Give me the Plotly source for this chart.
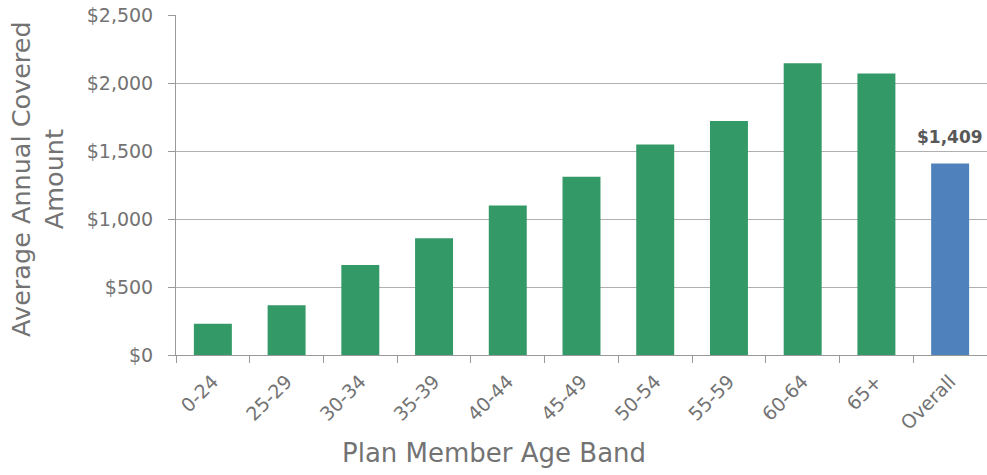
import plotly.graph_objects as go

categories = ["0-24", "25-29", "30-34", "35-39", "40-44", "45-49",
              "50-54", "55-59", "60-64", "65+", "Overall"]
values = [230, 365, 662, 858, 1100, 1310, 1547, 1720, 2145, 2070, 1409]
bar_colors = ["#339966"] * 10 + ["#4F81BD"]
tick_vals = [0, 500, 1000, 1500, 2000, 2500]
tick_text = ["$0", "$500", "$1,000", "$1,500", "$2,000", "$2,500"]

FONT = "DejaVu Sans"
GRAY = "#737373"

fig = go.Figure(go.Bar(x=categories, y=values, marker_color=bar_colors,
                       marker_line_width=0))

fig.add_annotation(x=categories[-1], y=values[-1], text="<b>$1,409</b>",
                   showarrow=False, yanchor="bottom", yshift=14,
                   font=dict(family=FONT, size=17, color="#585858"))

fig.add_annotation(xref="paper", yref="paper", x=(38 - 176) / 811, y=0.518,
                   text="Average Annual Covered<br>Amount", textangle=-90,
                   showarrow=False, xanchor="center", yanchor="middle",
                   font=dict(family=FONT, size=25.5, color=GRAY))

fig.add_annotation(xref="paper", yref="paper", x=(494 - 176) / 811, y=-(453 - 355) / 340,
                   text="Plan Member Age Band", showarrow=False,
                   xanchor="center", yanchor="middle",
                   font=dict(family=FONT, size=26, color=GRAY))

fig.update_layout(
    width=987, height=475,
    margin=dict(l=176, r=0, t=15, b=120),
    plot_bgcolor="white", paper_bgcolor="white",
    bargap=0.485, showlegend=False,
    font=dict(family=FONT, color=GRAY),
)
fig.update_xaxes(type="category", showline=True, linecolor="#999999", linewidth=1,
                 ticks="outside", tickson="boundaries", ticklen=7, tickcolor="#999999",
                 tickangle=-45, ticklabelstandoff=7,
                 tickfont=dict(family=FONT, size=19, color=GRAY),
                 showgrid=False)
fig.update_yaxes(range=[0, 2500], tickvals=tick_vals, ticktext=tick_text,
                 showline=True, linecolor="#999999", linewidth=1,
                 ticks="outside", ticklen=7, tickcolor="#999999",
                 ticklabelstandoff=11,
                 showgrid=True, gridcolor="#b0b0b0", gridwidth=1, zeroline=False,
                 tickfont=dict(family=FONT, size=19, color=GRAY))

fig.write_html("out.html")
